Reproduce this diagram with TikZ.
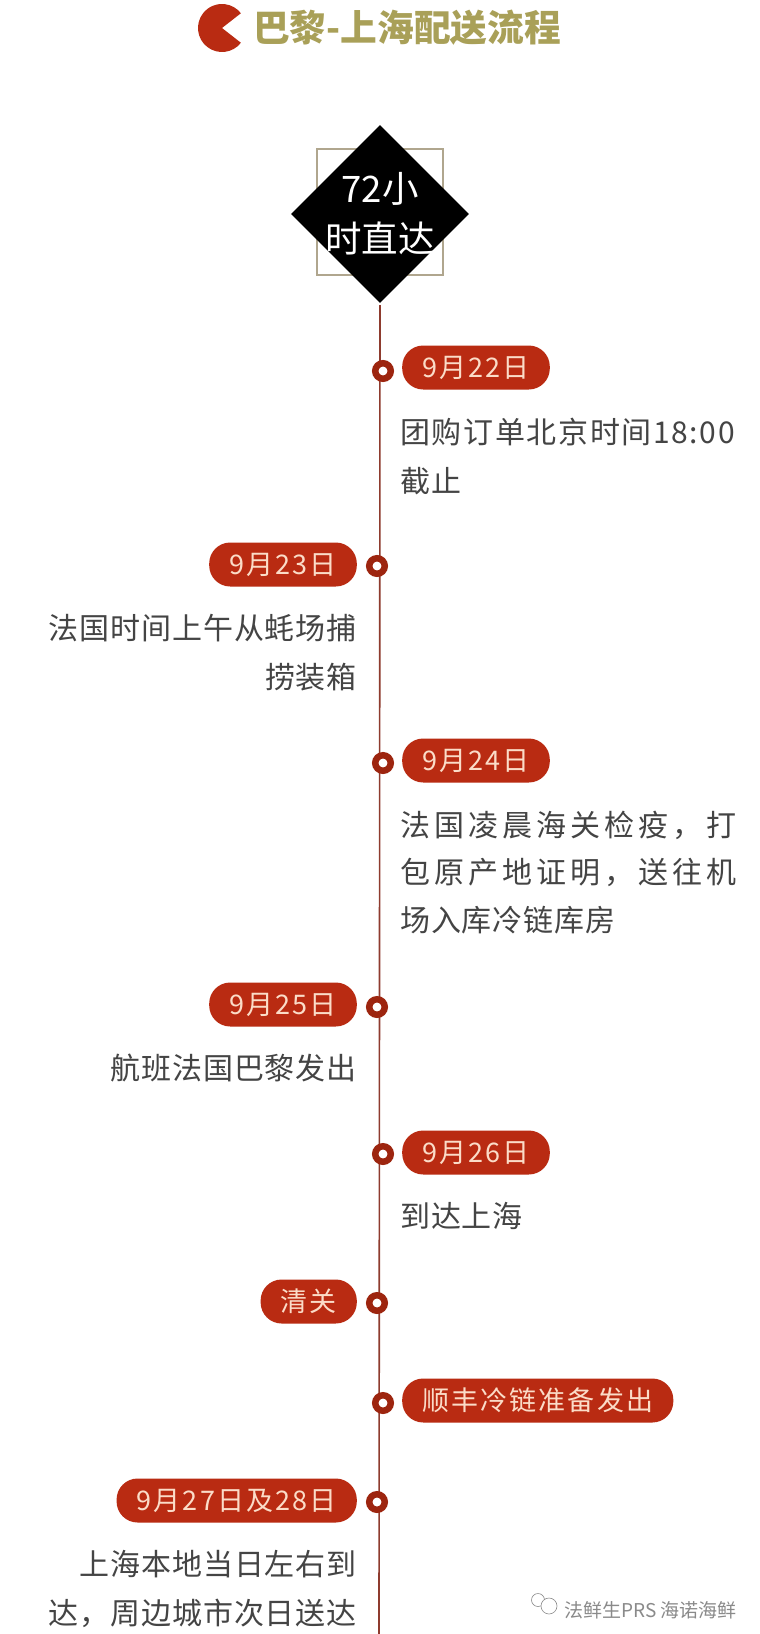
\documentclass[tikz,border=0pt]{standalone}
\usepackage{fontspec}
\setmainfont{Noto Sans CJK SC}
\newfontfamily\bodyfont[LetterSpace=3]{Noto Sans CJK SC}
\newfontfamily\digitfont[LetterSpace=5.5]{Noto Sans CJK SC}
\newfontfamily\widefont[LetterSpace=13.5]{Noto Sans CJK SC}
\newfontfamily\pillfont[LetterSpace=8]{Noto Sans CJK SC}
\usetikzlibrary{positioning,shapes.geometric,backgrounds}
\definecolor{brick}{HTML}{B92B12}
\definecolor{blush}{HTML}{FBDCC8}
\definecolor{stem}{HTML}{8E3B2E}
\definecolor{olive}{HTML}{A9A058}
\definecolor{frametan}{HTML}{B0A68E}
\definecolor{inkgrey}{HTML}{444444}
\definecolor{markgrey}{HTML}{8A8A8A}

\begin{document}
\begin{tikzpicture}[
  x=1pt,y=-1pt,
  datepill/.style={fill=brick,text=blush,rounded corners=21pt,minimum height=44pt,inner ysep=0pt,inner xsep=20pt,font=\pillfont\fontsize{27}{30}\selectfont},
  dotring/.style={circle,draw=brick!85!black,line width=6.5pt,fill=white,minimum size=15.5pt,inner sep=0pt},
  bodyR/.style={text=inkgrey,align=left,inner sep=0pt,font=\bodyfont\fontsize{30}{49}\selectfont},
  bodyL/.style={text=inkgrey,align=right,inner sep=0pt,font=\bodyfont\fontsize{30}{49}\selectfont},
  node distance=9pt]
  \useasboundingbox[fill=white] (0,0) rectangle (760,1634);
  % title
  \fill[brick] (222,28) -- ++(38:24) arc[start angle=38,end angle=322,radius=24] -- cycle;
  \coordinate (pac) at (246,28);
  \node[right=7pt of pac,inner sep=0pt,text=olive,font=\bfseries\fontsize{36.7}{40}\selectfont] (title) {巴黎-上海配送流程};
  % badge
  \node[draw=frametan,line width=1.2pt,minimum size=126pt,inner sep=0pt] (frame) at (380,212) {};
  \node[diamond,fill=black,minimum width=178pt,minimum height=178pt,inner sep=0pt,
    label={[text=white,align=center,font=\fontsize{36.5}{50}\selectfont]center:72小\\时直达}] (badge) at (380,214) {};
  % stem
  \coordinate (stemend) at (379,1634);
  \draw[stem,line width=1.6pt,shorten <=2pt] (badge.south) -- (stemend);
  % right side
  \node[dotring] (r22) at (383,371) {};
  \node[datepill,anchor=west] (d22) at (402,367.5) {9月22日};
  \node[bodyR,below right=28pt and 0pt of d22.south west,xshift=-2pt] (t22) {{\digitfont 团购订单北京时间18:00}\\截止};
  % left side
  \node[dotring] (r23) at (377,566) {};
  \node[datepill,anchor=east] (d23) at (357,564.5) {9月23日};
  \node[bodyL,below left=27pt and 0pt of d23.south east] (t23) {法国时间上午从蚝场捕\\捞装箱};
  \node[dotring] (r24) at (383,763) {};
  \node[datepill,anchor=west] (d24) at (402,760.5) {9月24日};
  \node[bodyR,below right=28pt and 0pt of d24.south west,xshift=-2pt,font=\bodyfont\fontsize{30}{47.5}\selectfont] (t24) {{\widefont 法国凌晨海关检疫，打}\\{\widefont 包原产地证明，送往机}\\场入库冷链库房};
  \node[dotring] (r25) at (377,1007) {};
  \node[datepill,anchor=east] (d25) at (357,1004.5) {9月25日};
  \node[bodyL,below left=27pt and 0pt of d25.south east] (t25) {航班法国巴黎发出};
  \node[dotring] (r26) at (383,1154) {};
  \node[datepill,anchor=west] (d26) at (402,1152.5) {9月26日};
  \node[bodyR,below right=27pt and 0pt of d26.south west,xshift=-2pt] (t26) {到达上海};
  \node[dotring] (r27) at (377,1303) {};
  \node[datepill,anchor=east] (d27) at (357,1301.5) {清关};
  \node[dotring] (r28) at (383,1403) {};
  \node[datepill,anchor=west] (d28) at (402,1400.5) {顺丰冷链准备发出};
  \node[dotring] (r29) at (377,1502) {};
  \node[datepill,anchor=east] (d29) at (357,1500.5) {9月27日及28日};
  \node[bodyL,below left=27pt and 0pt of d29.south east] (t29) {上海本地当日左右到\\达，周边城市次日送达};
  % watermark
  \node[circle,draw=markgrey,line width=.6pt,minimum size=13pt,inner sep=0pt] (wx1) at (538,1600) {};
  \node[circle,draw=markgrey,line width=.6pt,fill=white,minimum size=16pt,inner sep=0pt] (wx2) at (549,1606) {};
  \node[right=7pt of wx2.east,yshift=-4pt,inner sep=0pt,text=markgrey,font=\fontsize{19}{22}\selectfont] (mark) {法鲜生PRS 海诺海鲜};
\end{tikzpicture}
\end{document}
